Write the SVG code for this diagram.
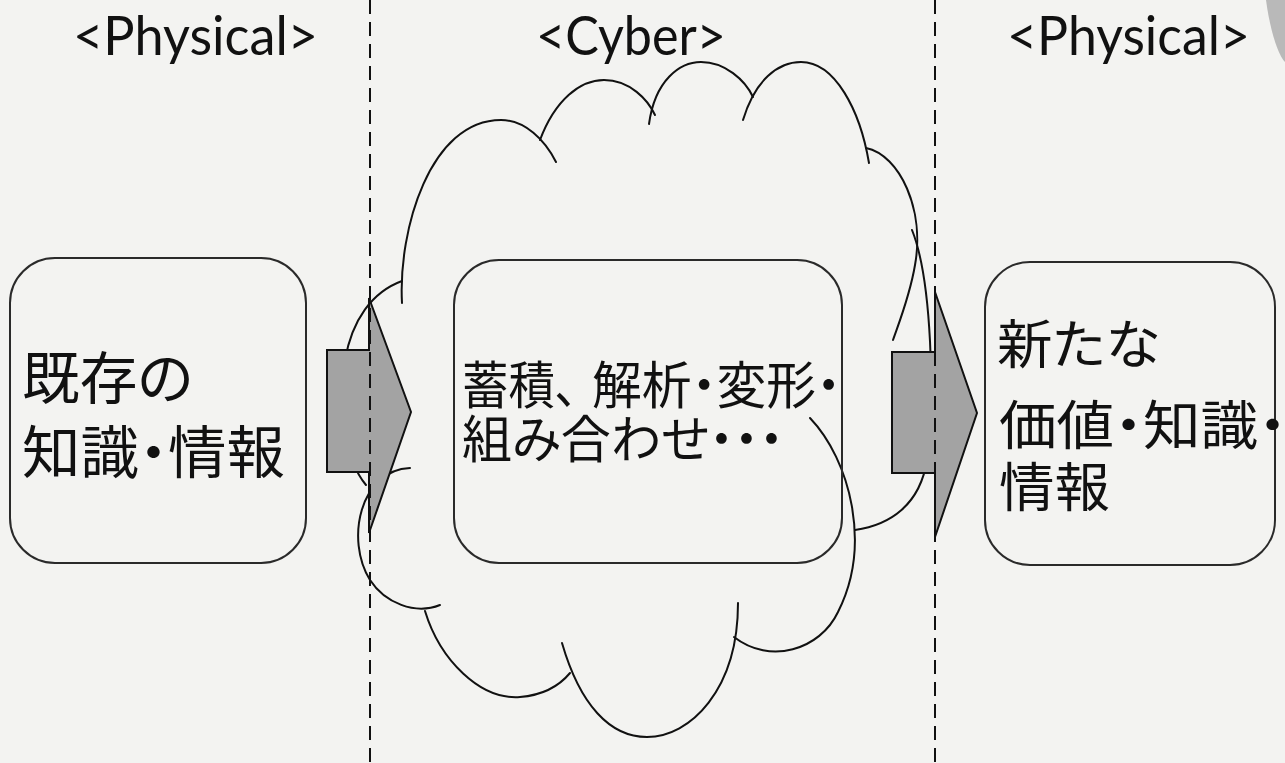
<svg xmlns="http://www.w3.org/2000/svg" width="1285" height="763" viewBox="0 0 1285 763">
<defs>
<style>
.hdr{font-family:Lato,"Liberation Sans",sans-serif;font-size:55px;fill:#111}
.jp{font-family:"Noto Sans CJK JP","Noto Sans",sans-serif;fill:#111;font-feature-settings:"palt"}
.box{fill:none;stroke:#2a2a2a;stroke-width:2}
.cloud{fill:none;stroke:#111;stroke-width:2;stroke-linecap:round}
.arrow{fill:#a3a3a3;stroke:#111;stroke-width:2;stroke-linejoin:miter}
.dash{stroke:#111;stroke-width:2;stroke-dasharray:14 8}
</style>
</defs>
<rect x="0" y="0" width="1285" height="763" fill="#f3f3f1"/>
<path d="M1266,0 L1285,0 L1285,62 C1278,55 1270,30 1266,0 Z" fill="#b9b9b9"/>
<g id="headers">
<text class="hdr" x="73" y="55" textLength="245" lengthAdjust="spacingAndGlyphs">&lt;Physical&gt;</text>
<text class="hdr" x="536" y="55" textLength="190" lengthAdjust="spacingAndGlyphs">&lt;Cyber&gt;</text>
<text class="hdr" x="1007" y="55" textLength="243" lengthAdjust="spacingAndGlyphs">&lt;Physical&gt;</text>
</g>
<g id="cloud">
<path class="cloud" d="M366,485 C345,460 335,400 345,360 C352,320 372,292 402,281"/>
<path class="cloud" d="M402,303 C398,230 430,120 501,120 C525,120 545,140 556,162"/>
<path class="cloud" d="M540,140 C555,100 580,80 604,80 C630,80 648,100 655,115"/>
<path class="cloud" d="M649,124 C655,80 680,62 701,62 C725,62 745,80 753,97"/>
<path class="cloud" d="M743,120 C755,80 778,62 801,62 C835,62 860,110 869,163"/>
<path class="cloud" d="M866,148 C900,155 925,210 915,265 C910,295 900,320 893,340"/>
<path class="cloud" d="M912,230 C932,280 935,400 927,460 C920,505 890,525 855,530"/>
<path class="cloud" d="M810,418 C850,460 872,545 838,612 C820,650 770,665 734,637"/>
<path class="cloud" d="M738,603 C738,690 690,737 647,737 C610,737 580,705 562,643"/>
<path class="cloud" d="M425,611 C440,660 480,700 520,697 C545,695 560,685 570,673"/>
<path class="cloud" d="M410,468 C360,470 345,540 370,580 C385,603 415,615 440,605"/>
</g>
<g id="box-physical-left">
<rect class="box" x="10" y="258" width="296" height="305" rx="45"/>
<text class="jp" x="22" y="399" font-size="57" textLength="171" lengthAdjust="spacingAndGlyphs">既存の</text>
<text class="jp" x="22" y="473" font-size="57" textLength="263" lengthAdjust="spacingAndGlyphs">知識・情報</text>
</g>
<g id="box-cyber">
<rect class="box" x="454" y="260" width="388" height="303" rx="45"/>
<text class="jp" x="462" y="404" font-size="51" textLength="116" lengthAdjust="spacingAndGlyphs">蓄積、</text>
<text class="jp" x="592" y="404" font-size="51" textLength="249" lengthAdjust="spacingAndGlyphs">解析・変形・</text>
<text class="jp" x="462" y="458" font-size="51" textLength="322" lengthAdjust="spacingAndGlyphs">組み合わせ・・・</text>
</g>
<g id="box-physical-right">
<rect class="box" x="985" y="262" width="290" height="303" rx="45"/>
<text class="jp" x="997" y="364" font-size="53" textLength="163" lengthAdjust="spacingAndGlyphs">新たな</text>
<text class="jp" x="999" y="445" font-size="53" textLength="288" lengthAdjust="spacingAndGlyphs">価値・知識・</text>
<text class="jp" x="999" y="507" font-size="53" textLength="111" lengthAdjust="spacingAndGlyphs">情報</text>
</g>
<g id="connectors">
<polygon id="arrow-left" class="arrow" points="327,350 369,350 369,298 411,412 369,533 369,472 327,472"/>
<polygon id="arrow-right" class="arrow" points="892,352 935,352 935,292 977,413 935,537 935,473 892,473"/>
</g>
<g id="dividers">
<line class="dash" x1="370" y1="0" x2="370" y2="763"/>
<line class="dash" x1="935" y1="0" x2="935" y2="763"/>
</g>
</svg>
